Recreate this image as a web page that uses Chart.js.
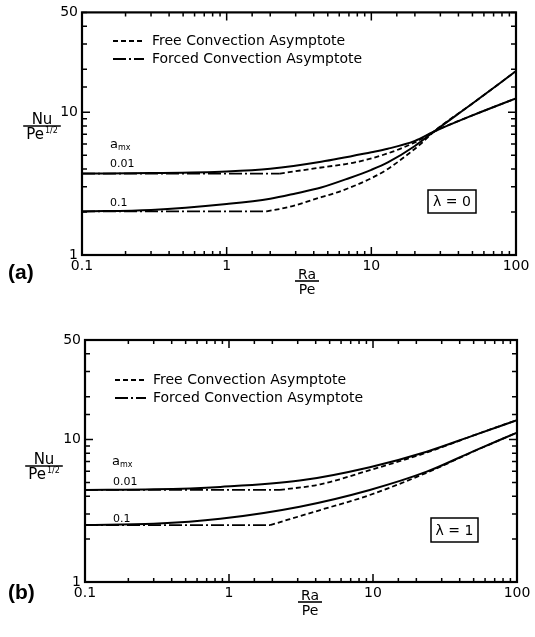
<!DOCTYPE html>
<html>
<head>
<meta charset="utf-8">
<script src="https://cdn.jsdelivr.net/npm/chart.js@4/dist/chart.umd.min.js"></script>
<style>
  html, body { margin: 0; padding: 0; background: #fff; }
  canvas { display: block; }
</style>
</head>
<body>
<canvas id="chart-a" width="535" height="318"></canvas>
<canvas id="chart-b" width="535" height="319"></canvas>
<script>
// [Ra/Pe, Nu/Pe^1/2] pairs

// (a) lambda = 0
const aExact001 = [[0.1, 3.72], [0.3, 3.75], [1, 3.85], [2, 4.02], [4.5, 4.5], [10, 5.25], [13, 5.55], [20, 6.3], [27, 7.3], [50, 9.5], [100, 12.5]];
const aExact01 = [[0.1, 2.02], [0.3, 2.07], [1, 2.28], [2, 2.48], [3, 2.7], [4.5, 2.97], [7, 3.45], [10, 3.95], [13, 4.45], [20, 5.8], [27, 7.3], [50, 11.5], [100, 19.4]];
const aFree001 = [[2.33, 3.72], [4.5, 4.1], [7.7, 4.45], [13, 5.15], [20, 6.15], [27, 7.3], [50, 9.5], [100, 12.5]];
const aFree01 = [[1.89, 2.02], [2.7, 2.17], [4.5, 2.54], [5.9, 2.76], [10, 3.45], [13, 4.0], [18, 5.1], [22, 6.0], [27, 7.3], [50, 11.5], [100, 19.4]];
const aForced001 = [[0.1, 3.72], [2.33, 3.72]];
const aForced01 = [[0.1, 2.02], [1.89, 2.02]];

// (b) lambda = 1
const bExact001 = [[0.1, 4.43], [0.3, 4.47], [0.87, 4.65], [3.1, 5.15], [9.5, 6.4], [23.6, 8.22], [50, 10.7], [100, 13.7]];
const bExact01 = [[0.1, 2.51], [0.3, 2.56], [0.87, 2.78], [3.1, 3.38], [9.5, 4.43], [23.6, 5.95], [50, 8.3], [100, 11.2]];
const bFree001 = [[2.26, 4.43], [4.3, 4.85], [9.5, 6.1], [23.6, 8.1], [50, 10.7], [100, 13.7]];
const bFree01 = [[1.93, 2.51], [4.3, 3.2], [9.5, 4.08], [23.6, 5.85], [50, 8.25], [100, 11.2]];
const bForced001 = [[0.1, 4.43], [2.26, 4.43]];
const bForced01 = [[0.1, 2.51], [1.93, 2.51]];

const xRange = [0.1, 100];
const yRange = [1, 50];
const yLabelled = [1, 10, 50];

const FONT = 'DejaVu Sans';
const SOLID = [];
const DASH = [5, 3];
const DASHDOT = [13, 3, 2, 3];

Chart.defaults.font.family = FONT;
Chart.defaults.color = '#000';

function isDecade(v) {
  const l = Math.log10(v);
  return Math.abs(l - Math.round(l)) < 1e-6;
}

// inward tick marks on all four sides plus the frame
const boxTicks = {
  id: 'boxTicks',
  afterDraw(chart) {
    const { ctx, chartArea: a, scales: { x, y } } = chart;
    ctx.save();
    ctx.strokeStyle = '#000';
    ctx.lineWidth = 1.5;
    ctx.beginPath();
    x.ticks.forEach(t => {
      const px = x.getPixelForValue(t.value);
      const len = isDecade(t.value) ? 8 : 4;
      ctx.moveTo(px, a.bottom); ctx.lineTo(px, a.bottom - len);
      ctx.moveTo(px, a.top); ctx.lineTo(px, a.top + len);
    });
    y.ticks.forEach(t => {
      const py = y.getPixelForValue(t.value);
      const len = isDecade(t.value) ? 8 : 5;
      ctx.moveTo(a.left, py); ctx.lineTo(a.left + len, py);
      ctx.moveTo(a.right, py); ctx.lineTo(a.right - len, py);
    });
    ctx.stroke();
    ctx.lineWidth = 2.2;
    ctx.strokeRect(a.left, a.top, a.right - a.left, a.bottom - a.top);
    ctx.restore();
  }
};

function fraction(ctx, cx, ly, top, bottom, sup, size) {
  ctx.font = size + 'px ' + FONT;
  const wTop = ctx.measureText(top).width;
  const wBot = ctx.measureText(bottom).width;
  ctx.font = Math.round(size * 0.5) + 'px ' + FONT;
  const wSup = sup ? ctx.measureText(sup).width + 1 : 0;
  const w = Math.max(wTop, wBot + wSup) + 6;
  ctx.font = size + 'px ' + FONT;
  ctx.textAlign = 'left';
  ctx.textBaseline = 'alphabetic';
  ctx.fillText(top, cx - wTop / 2, ly - 2);
  ctx.textBaseline = 'top';
  const bx = cx - (wBot + wSup) / 2;
  ctx.fillText(bottom, bx, ly + 2);
  if (sup) {
    ctx.font = Math.round(size * 0.5) + 'px ' + FONT;
    ctx.fillText(sup, bx + wBot + 1, ly + 1);
  }
  ctx.lineWidth = 1.6;
  ctx.beginPath();
  ctx.moveTo(cx - w / 2, ly);
  ctx.lineTo(cx + w / 2, ly);
  ctx.stroke();
}

// legend, curve labels, lambda box, axis titles, panel tag
const figureText = {
  id: 'figureText',
  afterDraw(chart, args, o) {
    const ctx = chart.ctx;
    ctx.save();
    ctx.fillStyle = '#000';
    ctx.strokeStyle = '#000';

    // legend
    ctx.lineWidth = 1.8;
    [[DASH, 'Free Convection Asymptote'], [DASHDOT, 'Forced Convection Asymptote']].forEach(([dash, label], i) => {
      const ly = o.legY[i];
      ctx.setLineDash(dash);
      ctx.beginPath();
      ctx.moveTo(o.legX, ly);
      ctx.lineTo(o.legX + 31, ly);
      ctx.stroke();
      ctx.setLineDash([]);
      ctx.font = '14px ' + FONT;
      ctx.textAlign = 'left';
      ctx.textBaseline = 'middle';
      ctx.fillText(label, o.legTextX, ly);
    });

    // curve labels
    ctx.textBaseline = 'middle';
    ctx.font = '13px ' + FONT;
    ctx.fillText('a', o.amx[0], o.amx[1]);
    const wa = ctx.measureText('a').width;
    ctx.font = '8px ' + FONT;
    ctx.fillText('mx', o.amx[0] + wa, o.amx[1] + 3);
    ctx.font = '11px ' + FONT;
    ctx.fillText('0.01', o.l001[0], o.l001[1]);
    ctx.fillText('0.1', o.l01[0], o.l01[1]);

    // lambda box
    const [bx, by, bw, bh] = o.lamBox;
    ctx.lineWidth = 1.5;
    ctx.strokeRect(bx, by, bw, bh);
    ctx.font = '14px ' + FONT;
    ctx.textAlign = 'center';
    ctx.fillText(o.lam, bx + bw / 2, by + bh / 2 + 1);

    // axis titles
    fraction(ctx, o.yFrac[0], o.yFrac[1], 'Nu', 'Pe', '1/2', 15);
    fraction(ctx, o.xFrac[0], o.xFrac[1], 'Ra', 'Pe', '', 14);

    // panel tag
    ctx.font = 'bold 21px "Liberation Sans"';
    ctx.textAlign = 'left';
    ctx.textBaseline = 'middle';
    ctx.fillText(o.tag, 8, o.tagY);
    ctx.restore();
  }
};

function line(points, dash, width) {
  return {
    data: points.map(([x, y]) => ({ x, y })),
    showLine: true,
    borderColor: '#000',
    borderWidth: width,
    borderDash: dash,
    pointRadius: 0,
    fill: false,
    cubicInterpolationMode: 'monotone'
  };
}

function panel(id, datasets, t) {
  return new Chart(document.getElementById(id), {
    type: 'scatter',
    data: { datasets },
    options: {
      responsive: false,
      animation: false,
      devicePixelRatio: 1,
      layout: { padding: { top: t.top, right: t.right, left: 0, bottom: 0 } },
      plugins: { legend: { display: false }, tooltip: { enabled: false }, figureText: t },
      scales: {
        x: {
          type: 'logarithmic',
          min: xRange[0],
          max: xRange[1],
          grid: { display: false, drawTicks: false },
          border: { display: false },
          ticks: {
            autoSkip: false,
            maxRotation: 0,
            padding: 3,
            font: { size: 14 },
            callback: v => isDecade(v) ? String(v) : ''
          },
          afterFit: s => { s.height = t.xh; }
        },
        y: {
          type: 'logarithmic',
          min: yRange[0],
          max: yRange[1],
          grid: { display: false, drawTicks: false },
          border: { display: false },
          ticks: {
            autoSkip: false,
            padding: 4,
            font: { size: 14 },
            callback: v => yLabelled.some(l => Math.abs(l - v) < 1e-6) ? String(v) : ''
          },
          afterFit: s => { s.width = t.yw; }
        }
      }
    },
    plugins: [boxTicks, figureText]
  });
}

panel('chart-a', [
  line(aExact001, SOLID, 2),
  line(aExact01, SOLID, 2),
  line(aFree001, DASH, 1.8),
  line(aFree01, DASH, 1.8),
  line(aForced001, DASHDOT, 1.8),
  line(aForced01, DASHDOT, 1.8)
], {
  top: 10, right: 19, yw: 82, xh: 63,
  tag: '(a)', tagY: 273, lam: 'λ = 0', lamBox: [428, 190, 48, 23],
  legX: 113, legTextX: 152, legY: [41, 59],
  amx: [110, 145], l001: [110, 164], l01: [110, 203],
  yFrac: [42, 126], xFrac: [307, 281]
});

panel('chart-b', [
  line(bExact001, SOLID, 2),
  line(bExact01, SOLID, 2),
  line(bFree001, DASH, 1.8),
  line(bFree01, DASH, 1.8),
  line(bForced001, DASHDOT, 1.8),
  line(bForced01, DASHDOT, 1.8)
], {
  top: 22, right: 18, yw: 85, xh: 55,
  tag: '(b)', tagY: 275, lam: 'λ = 1', lamBox: [431, 200, 47, 24],
  legX: 115, legTextX: 153, legY: [62, 80],
  amx: [112, 144], l001: [113, 164], l01: [113, 201],
  yFrac: [44, 148], xFrac: [310, 284]
});
</script>
</body>
</html>
